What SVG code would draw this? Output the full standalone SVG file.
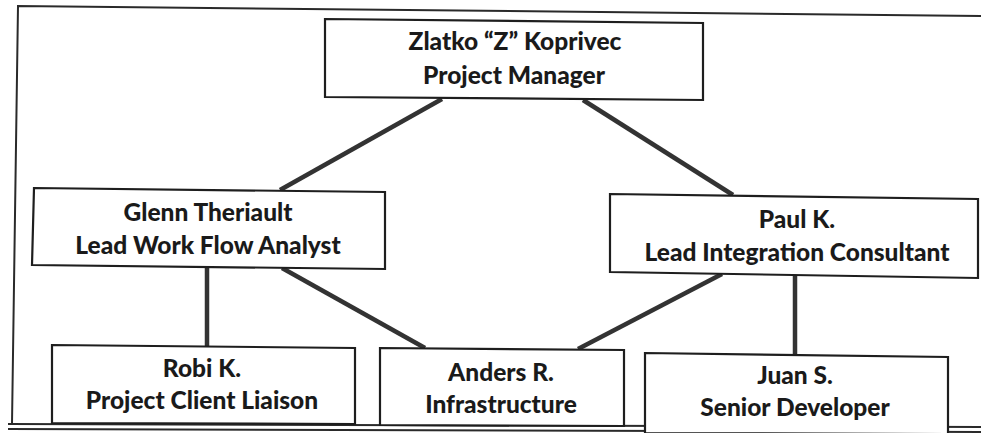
<svg xmlns="http://www.w3.org/2000/svg" width="981" height="433" viewBox="0 0 981 433">
<style>
.frame{fill:none;stroke:#2a2a2a;stroke-width:2}
.box{fill:#fff;stroke:#1e1e1e;stroke-width:2.2}
.conn{stroke:#333;stroke-width:4.5;stroke-linecap:butt;fill:none}
text{font-family:Lato,"Open Sans","Liberation Sans",sans-serif;font-weight:900;font-size:24.5px;fill:#1a1a1a;text-anchor:middle}
</style>
<rect width="981" height="433" fill="#fff"/>
<g id="frame">
<polyline class="frame" points="981,16 18,6 12,424"/>
<line class="frame" x1="8" y1="424" x2="981" y2="427"/>
<line class="frame" x1="8" y1="429" x2="981" y2="432" stroke-width="1.5"/>
</g>
<g id="connectors">
<line class="conn" x1="442" y1="99" x2="280" y2="190"/>
<line class="conn" x1="583" y1="100" x2="733" y2="195"/>
<line class="conn" x1="207" y1="267" x2="207" y2="346"/>
<line class="conn" x1="282" y1="268" x2="425" y2="348"/>
<line class="conn" x1="722" y1="274" x2="578" y2="349"/>
<line class="conn" x1="795" y1="276" x2="795" y2="355"/>
</g>
<g id="zlatko">
<polygon class="box" points="325,19 703,23 703,100 325,97"/>
<text x="515" y="50">Zlatko “Z” Koprivec</text>
<text x="514" y="84">Project Manager</text>
</g>
<g id="glenn">
<polygon class="box" points="34,188 385,192 385,269 32,265"/>
<text x="208" y="221">Glenn Theriault</text>
<text x="208" y="254">Lead Work Flow Analyst</text>
</g>
<g id="paul">
<polygon class="box" points="610,194 978,199 978,278 610,272"/>
<text x="797" y="228">Paul K.</text>
<text x="797" y="261">Lead Integration Consultant</text>
</g>
<g id="robi">
<polygon class="box" points="52,345 355,348 355,424 52,423"/>
<text x="202" y="377">Robi K.</text>
<text x="202" y="409">Project Client Liaison</text>
</g>
<g id="anders">
<polygon class="box" points="380,348 624,350 624,426 380,425"/>
<text x="501" y="381">Anders R.</text>
<text x="501" y="413">Infrastructure</text>
</g>
<g id="juan">
<polygon class="box" points="645,353 948,357 948,434 645,433"/>
<text x="795" y="384">Juan S.</text>
<text x="795" y="416">Senior Developer</text>
</g>
</svg>
